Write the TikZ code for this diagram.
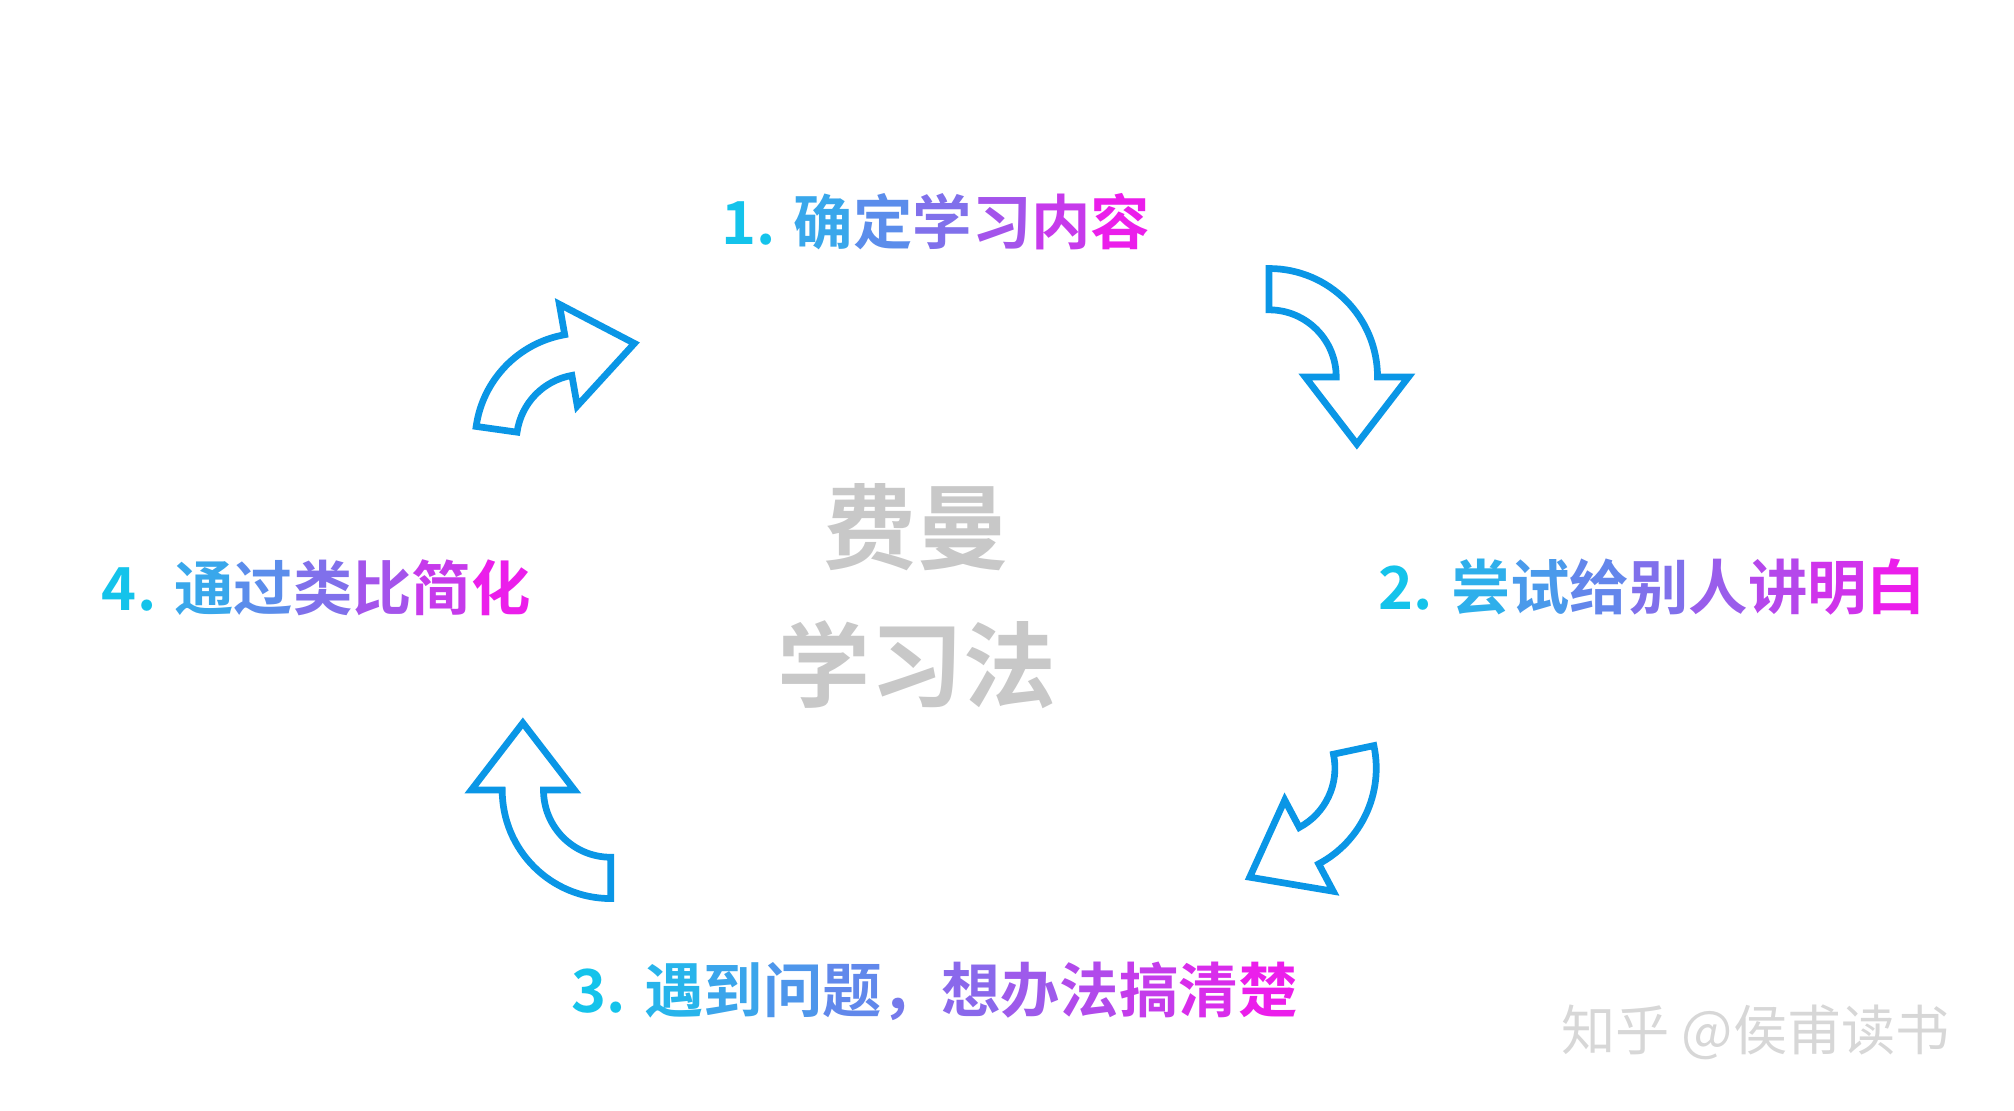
\documentclass[tikz,border=0pt]{standalone}
\usepackage{fontspec}
\usetikzlibrary{calc}
\newfontfamily\cjk{Noto Sans CJK SC}[BoldFont={* Bold}]
\newfontfamily\cjkl{Noto Sans CJK SC}
\setmainfont{Noto Sans CJK SC}
\definecolor{gs}{RGB}{20,195,235}
\definecolor{ge}{RGB}{235,30,235}
\definecolor{arr}{RGB}{10,150,230}
\definecolor{ttl}{RGB}{200,200,200}
\definecolor{wm}{RGB}{215,215,215}
\newcommand{\g}[2]{\textcolor{ge!#1!gs}{#2}}
\newcommand{\curvedarrow}[5]{%
 \draw[arrowshape] ($(#1,#2)+(-#3:84)$) arc[start angle=-#3,end angle=-#4,radius=84]
  -- ($(#1,#2)+(-#4:108)$) -- ($(#1,#2)+(-#4:68)+(-#4-#5*90:52)$)
  -- ($(#1,#2)+(-#4:28)$) -- ($(#1,#2)+(-#4:52)$)
  arc[start angle=-#4,end angle=-#3,radius=52] -- cycle;}
\begin{document}
\begin{tikzpicture}[x=0.5pt,y=-0.5pt,
 arrowshape/.style={draw=arr,line width=2.6pt,line join=miter,fill=white},
 lbl/.style={font=\cjk\bfseries\fontsize{23}{28}\selectfont,inner sep=0pt},
 ttlst/.style={font=\cjk\bfseries\fontsize{36}{40}\selectfont,text=ttl,inner sep=0pt},
 wmst/.style={font=\cjkl\fontsize{21}{25}\selectfont,text=wm,inner sep=0pt}]
\useasboundingbox (0,0) rectangle (1560,860);
\node[lbl] (l1) at (725,172) {\g{0}{1.} \g{17}{确}\g{33}{定}\g{50}{学}\g{67}{习}\g{83}{内}\g{100}{容}};
\node[lbl] (l2) at (1280,455) {\g{0}{2.} \g{12}{尝}\g{25}{试}\g{37}{给}\g{50}{别}\g{62}{人}\g{75}{讲}\g{87}{明}\g{100}{白}};
\node[lbl] (l3) at (724,768) {\g{0}{3.} \g{9}{遇}\g{18}{到}\g{27}{问}\g{36}{题}\g{45}{，}\g{55}{想}\g{64}{办}\g{73}{法}\g{82}{搞}\g{91}{清}\g{100}{楚}};
\node[lbl] (l4) at (245,455) {\g{0}{4.} \g{17}{通}\g{33}{过}\g{50}{类}\g{67}{比}\g{83}{简}\g{100}{化}};
\node[ttlst] (t1) at (710,408) {费曼};
\node[ttlst] (t2) at (710,515) {学习法};
\node[wmst] (wm) at (1360,800) {知乎 @侯甫读书};
\curvedarrow{983}{292}{90}{0}{-1}
\curvedarrow{452}{342}{172}{100}{-1}
\curvedarrow{982}{595}{12}{-62}{-1}
\curvedarrow{473}{612}{-90}{-180}{-1}
\end{tikzpicture}
\end{document}
